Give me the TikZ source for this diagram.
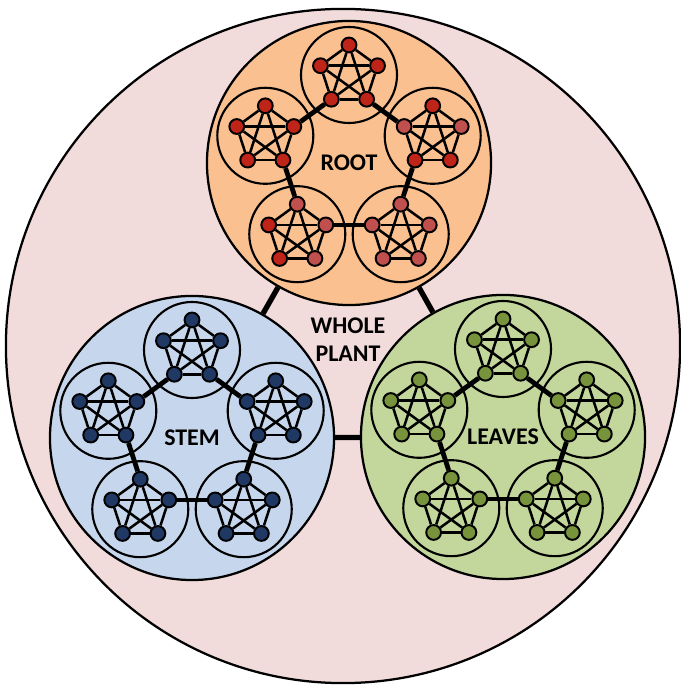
\documentclass[tikz,border=0pt]{standalone}
\usepackage{xcolor}
\usepackage{tikz}
\usepackage{fontspec}
\setsansfont{Carlito}
\definecolor{plantfill}{HTML}{F2DCDB}
\definecolor{rootfill}{HTML}{FAC090}
\definecolor{stemfill}{HTML}{C6D6EC}
\definecolor{leavesfill}{HTML}{C3D69B}
\definecolor{rootdot}{HTML}{BF2419}
\definecolor{rootlite}{HTML}{C0504D}
\definecolor{stemdot}{HTML}{1F3864}
\definecolor{leavesdot}{HTML}{77933C}

\tikzset{
  whole/.style={circle, draw, line width=1.6pt, fill=plantfill, minimum size=16.85cm, inner sep=0pt},
  part/.style={circle, draw, line width=1.6pt, minimum size=7.1cm, inner sep=0pt,
    font=\sffamily\bfseries\fontsize{17}{20}\selectfont},
  cell/.style={circle, draw, line width=1.5pt, minimum size=2.4cm, inner sep=0pt},
  dot/.style={circle, draw, line width=1.4pt, minimum size=0.37cm, inner sep=0pt},
  kline/.style={line width=1.8pt},
  ring/.style={line width=3.4pt},
  link/.style={line width=3.8pt},
  lite/.style={#1/.style={fill=rootlite}},
  lite/.list={root-2-2, root-2-5, root-3-1, root-3-2, root-3-3, root-3-4, root-3-5,
    root-4-1, root-4-2, root-4-3}
}

\begin{document}
\begin{tikzpicture}[x=0.025cm, y=0.025cm]
  \useasboundingbox (0,0) rectangle (681,689);
  \node[whole] (plant) at (343,343) {};
  \node[font=\sffamily\bfseries\fontsize{17}{20}\selectfont, align=center] (wholelabel) at (348,349) {WHOLE\\PLANT};
  \node[part, fill=rootfill] (root) at (349,526) {ROOT};
  \node[part, fill=stemfill] (stem) at (192,251) {STEM};
  \node[part, fill=leavesfill] (leaves) at (503,252) {LEAVES};
  \draw[link] (root) -- (stem);
  \draw[link] (root) -- (leaves);
  \draw[link] (stem) -- (leaves);
  \foreach \m/\dc in {root/rootdot, stem/stemdot, leaves/leavesdot} {
    \foreach \i/\a in {1/90, 2/18, 3/-54, 4/-126, 5/162} {
      \node[cell] (\m-\i) at ([shift={(\a:88)}]\m) {};
      \foreach \j/\b in {1/90, 2/18, 3/-54, 4/-126, 5/162}
        \node[dot, fill=\dc, \m-\i-\j/.try] (\m-\i-\j) at ([shift={(\b:30)}]\m-\i) {};
      \foreach \j in {1,...,4} {
        \pgfmathtruncatemacro\jn{\j+1}
        \foreach \k in {\jn,...,5}
          \draw[kline] (\m-\i-\j) -- (\m-\i-\k);
      }
    }
    \foreach \p/\q/\r/\s in {1/3/2/5, 2/4/3/1, 3/5/4/2, 4/1/5/3, 5/2/1/4}
      \draw[ring] (\m-\p-\q) -- (\m-\r-\s);
  }
\end{tikzpicture}
\end{document}
